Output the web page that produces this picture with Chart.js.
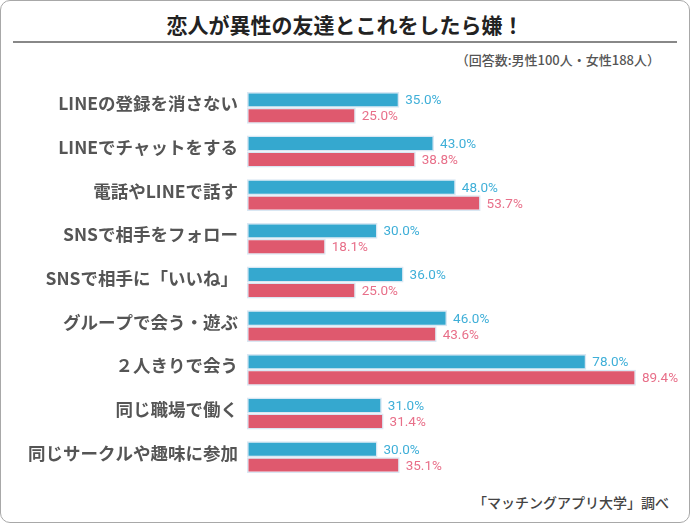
<!DOCTYPE html>
<html>
<head>
<meta charset="utf-8">
<script src="https://cdn.jsdelivr.net/npm/chart.js@4"></script>
<style>
  body { margin: 0; background: #fff; }
  #wrap {
    position: relative; width: 690px; height: 523px; box-sizing: border-box;
    border: 1.5px solid #a8a8a8; border-radius: 10px; overflow: hidden;
    font-family: "Noto Sans CJK JP", sans-serif;
  }
  #title {
    position: absolute; left: 12px; right: 12px; top: 8px; height: 32px;
    border-bottom: 2px solid #888; text-align: center;
    font-size: 21px; font-weight: bold; color: #222; line-height: 30px;
  }
  #sub {
    position: absolute; right: 29px; top: 49px; font-size: 13px; color: #555; font-weight: 500;
  }
  #foot {
    position: absolute; right: 20px; top: 491px; font-size: 14px; color: #444; font-weight: 500;
  }
  canvas { position: absolute; left: 0; top: 0; }
</style>
</head>
<body>
<div id="wrap">
  <div id="title">恋人が異性の友達とこれをしたら嫌！</div>
  <div id="sub">（回答数:男性100人・女性188人）</div>
  <div id="foot">「マッチングアプリ大学」調べ</div>
  <canvas id="chart" width="690" height="523"></canvas>
</div>
<script>
// categories and values
const categories = [
    'LINEの登録を消さない',
    'LINEでチャットをする',
    '電話やLINEで話す',
    'SNSで相手をフォロー',
    'SNSで相手に「いいね」',
    'グループで会う・遊ぶ',
    '２人きりで会う',
    '同じ職場で働く',
    '同じサークルや趣味に参加'
];
const maleValues = [35.0, 43.0, 48.0, 30.0, 36.0, 46.0, 78.0, 31.0, 30.0];
const femaleValues = [25.0, 38.8, 53.7, 18.1, 25.0, 43.6, 89.4, 31.4, 35.1];

const barColors = ['#35a8cf', '#df596e'];
const labelColors = ['#3fafd8', '#e86f89'];

// draws "xx.x%" next to each bar
const valueLabels = {
    id: 'valueLabels',
    afterDatasetsDraw(chart) {
        const ctx = chart.ctx;
        ctx.save();
        ctx.font = '400 13.5px Roboto, "Noto Sans CJK JP", sans-serif';
        ctx.textBaseline = 'middle';
        ctx.textAlign = 'left';
        chart.data.datasets.forEach((ds, i) => {
            const meta = chart.getDatasetMeta(i);
            ctx.fillStyle = labelColors[i];
            meta.data.forEach((bar, j) => {
                ctx.fillText(ds.data[j].toFixed(1) + '%', bar.x + 6, bar.y + 1);
            });
        });
        ctx.restore();
    }
};

const ctx = document.getElementById('chart').getContext('2d');
const chart = new Chart(ctx, {
    type: 'bar',
    data: {
        labels: categories,
        datasets: [{
            label: '男性',
            data: maleValues,
            backgroundColor: barColors[0],
            borderColor: 'rgba(215,230,242,0.95)',
            borderWidth: 1.5,
            borderSkipped: false
        }, {
            label: '女性',
            data: femaleValues,
            backgroundColor: barColors[1],
            borderColor: 'rgba(215,230,242,0.95)',
            borderWidth: 1.5,
            borderSkipped: false
        }]
    },
    options: {
        indexAxis: 'y',
        responsive: false,
        animation: false,
        devicePixelRatio: 1,
        categoryPercentage: 0.73,
        barPercentage: 1.0,
        layout: { padding: { top: 85, bottom: 45, left: 0, right: 9 } },
        scales: {
            x: { display: false, min: 0, max: 100 },
            y: {
                grid: { display: false, drawTicks: false },
                border: { display: false },
                afterFit(scale) { scale.width = 246; },
                ticks: {
                    padding: 9,
                    labelOffset: -4,
                    color: '#555',
                    font: { family: '"Noto Sans CJK JP", sans-serif', size: 17.5, weight: 'bold' }
                }
            }
        },
        plugins: {
            legend: { display: false },
            tooltip: { enabled: false }
        }
    },
    plugins: [valueLabels]
});
</script>
</body>
</html>
